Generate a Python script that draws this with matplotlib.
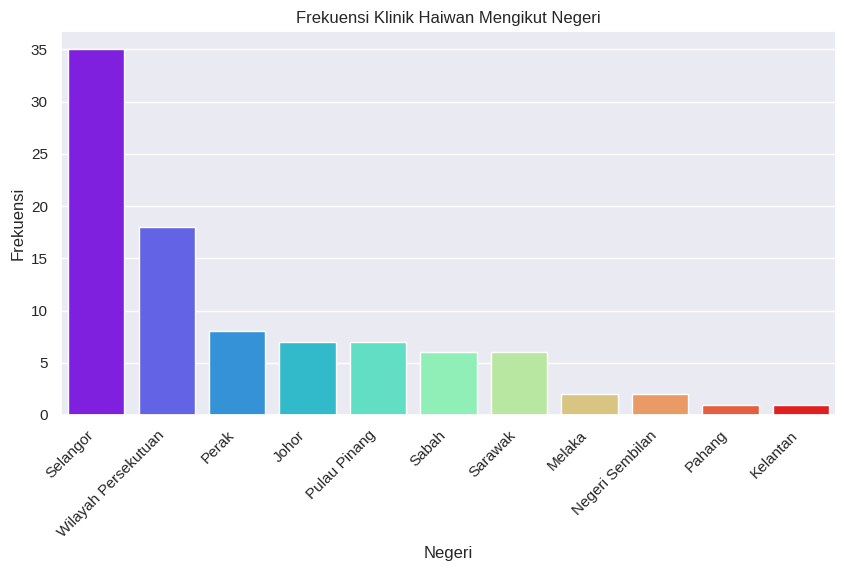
import matplotlib
matplotlib.use('Agg')
import matplotlib.pyplot as plt
import numpy as np
import seaborn as sns

negeri = ['Selangor', 'Wilayah Persekutuan', 'Perak', 'Johor', 'Pulau Pinang',
          'Sabah', 'Sarawak', 'Melaka', 'Negeri Sembilan', 'Pahang', 'Kelantan']
frekuensi = [35, 18, 8, 7, 7, 6, 6, 2, 2, 1, 1]

sns.set_theme(style='darkgrid')
plt.rcParams['font.family'] = ['Liberation Sans', 'DejaVu Sans']

# rainbow sampled end to end, one colour per state
warna = [tuple(c[:3]) for c in plt.cm.rainbow(np.linspace(0, 1, len(negeri)))]

fig = plt.figure(figsize=(8.45, 5.74), dpi=100)
ax = fig.add_axes([61 / 845, 1 - 415 / 574, (836 - 61) / 845, (415 - 31) / 574])
sns.barplot(x=negeri, y=frekuensi, hue=negeri, palette=warna, legend=False, ax=ax)

ax.set_title('Frekuensi Klinik Haiwan Mengikut Negeri')
ax.set_xlabel('Negeri')
ax.set_ylabel('Frekuensi')
plt.setp(ax.get_xticklabels(), rotation=45, ha='right')

fig.savefig('out.png', dpi=100)
